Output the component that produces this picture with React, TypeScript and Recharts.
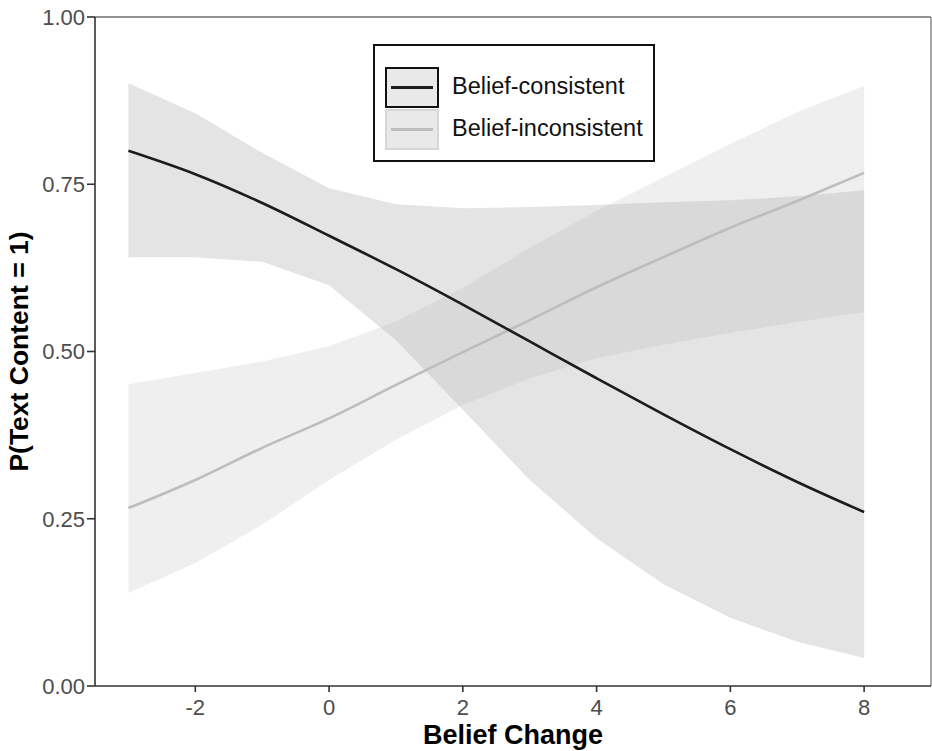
import React from "react";
import {
  ComposedChart,
  Area,
  Line,
  XAxis,
  YAxis,
  ReferenceLine,
  Legend,
} from "recharts";

const beliefChange = [-3, -2, -1, 0, 1, 2, 3, 4, 5, 6, 7, 8];

const consistentFit = [0.8, 0.765, 0.722, 0.673, 0.623, 0.57, 0.515, 0.46, 0.406, 0.354, 0.305, 0.26];
const consistentLower = [0.641, 0.641, 0.634, 0.599, 0.517, 0.413, 0.308, 0.221, 0.152, 0.102, 0.066, 0.042];
const consistentUpper = [0.901, 0.856, 0.797, 0.744, 0.72, 0.714, 0.716, 0.719, 0.723, 0.726, 0.732, 0.741];

const inconsistentFit = [0.266, 0.308, 0.356, 0.4, 0.45, 0.499, 0.547, 0.596, 0.641, 0.685, 0.725, 0.767];
const inconsistentLower = [0.139, 0.184, 0.241, 0.308, 0.368, 0.42, 0.46, 0.49, 0.51, 0.528, 0.544, 0.559];
const inconsistentUpper = [0.451, 0.468, 0.485, 0.508, 0.545, 0.595, 0.655, 0.71, 0.76, 0.81, 0.858, 0.897];

const xTicks = [-2, 0, 2, 4, 6, 8];
const yTicks = [0, 0.25, 0.5, 0.75, 1];

const seriesNames = ["Belief-consistent", "Belief-inconsistent"];

const rows = beliefChange.map((x, i) => ({
  x,
  cFit: consistentFit[i],
  cBand: [consistentLower[i], consistentUpper[i]],
  iFit: inconsistentFit[i],
  iBand: [inconsistentLower[i], inconsistentUpper[i]],
}));

const FONT = "'Liberation Sans', Arial, Helvetica, sans-serif";
const DARK = "#1c1c1c";
const LIGHT = "#bdbdbd";

function LegendBox() {
  const keys = [
    { name: seriesNames[0], line: DARK, border: "#111" },
    { name: seriesNames[1], line: LIGHT, border: "#d6d6d6" },
  ];
  return (
    <div
      style={{
        width: 278,
        height: 114,
        border: "2px solid #111",
        background: "#fff",
        boxSizing: "content-box",
        position: "relative",
        fontFamily: FONT,
      }}
    >
      {keys.map((k, i) => (
        <div key={k.name}>
          <div
            style={{
              position: "absolute",
              left: 10,
              top: 21 + i * 42,
              width: 50,
              height: 37,
              background: "#e9e9e9",
              border: `2px solid ${k.border}`,
            }}
          >
            <div
              style={{
                position: "absolute",
                left: 4,
                right: 4,
                top: 17,
                height: 3,
                background: k.line,
              }}
            />
          </div>
          <div
            style={{
              position: "absolute",
              left: 77,
              top: 27 + i * 42,
              fontSize: 23.5,
              lineHeight: "27px",
              color: "#111",
              whiteSpace: "nowrap",
            }}
          >
            {k.name}
          </div>
        </div>
      ))}
    </div>
  );
}

export default function App() {
  return (
    <div style={{ position: "absolute", left: 0, top: 0, background: "#fff" }}>
      <ComposedChart
        width={932}
        height={751}
        data={rows}
        margin={{ top: 17, right: 1, bottom: 0, left: 0 }}
      >
        <XAxis
          dataKey="x"
          type="number"
          domain={[-3.5, 9]}
          ticks={xTicks}
          allowDataOverflow
          height={65}
          stroke="#333"
          strokeWidth={1.6}
          tickSize={6}
          tickMargin={7}
          tick={{ fill: "#4d4d4d", fontSize: 22, fontFamily: FONT }}
          tickLine={{ stroke: "#333", strokeWidth: 1.6 }}
          label={{
            value: "Belief Change",
            position: "insideBottom",
            offset: 7,
            style: { fontSize: 27, fontWeight: 700, fill: "#000", fontFamily: FONT },
          }}
        />
        <YAxis
          type="number"
          domain={[0, 1]}
          ticks={yTicks}
          allowDataOverflow
          width={95}
          stroke="#333"
          strokeWidth={1.6}
          tickSize={8}
          tickMargin={2}
          tickFormatter={(v: number) => v.toFixed(2)}
          tick={{ fill: "#4d4d4d", fontSize: 22, fontFamily: FONT }}
          tickLine={{ stroke: "#333", strokeWidth: 1.6 }}
          label={{
            content: (props: any) => {
              const vb = props.viewBox || {};
              const cy = (vb.y ?? 17) + (vb.height ?? 669) / 2;
              return (
                <text
                  x={28}
                  y={cy}
                  transform={`rotate(-90, 28, ${cy})`}
                  textAnchor="middle"
                  fontSize={26.5}
                  fontWeight={700}
                  fontFamily={FONT}
                  fill="#000"
                >
                  P(Text Content = 1)
                </text>
              );
            },
          }}
        />
        <ReferenceLine y={1} stroke="#6e6e6e" strokeWidth={1.5} />
        <ReferenceLine x={9} stroke="#8a8a8a" strokeWidth={1.5} />
        <Area
          dataKey="cBand"
          type="linear"
          stroke="none"
          fill="#c4c4c4"
          fillOpacity={0.45}
          isAnimationActive={false}
          legendType="none"
        />
        <Area
          dataKey="iBand"
          type="linear"
          stroke="none"
          fill="#b4b4b4"
          fillOpacity={0.21}
          isAnimationActive={false}
          legendType="none"
        />
        <Line
          dataKey="iFit"
          name={seriesNames[1]}
          type="monotone"
          stroke={LIGHT}
          strokeWidth={2.6}
          dot={false}
          isAnimationActive={false}
        />
        <Line
          dataKey="cFit"
          name={seriesNames[0]}
          type="monotone"
          stroke={DARK}
          strokeWidth={2.6}
          dot={false}
          isAnimationActive={false}
        />
        <Legend
          layout="horizontal"
          verticalAlign="middle"
          align="center"
          wrapperStyle={{ top: 44, left: 373, width: 282, height: 118 }}
          content={() => <LegendBox />}
        />
      </ComposedChart>
    </div>
  );
}
